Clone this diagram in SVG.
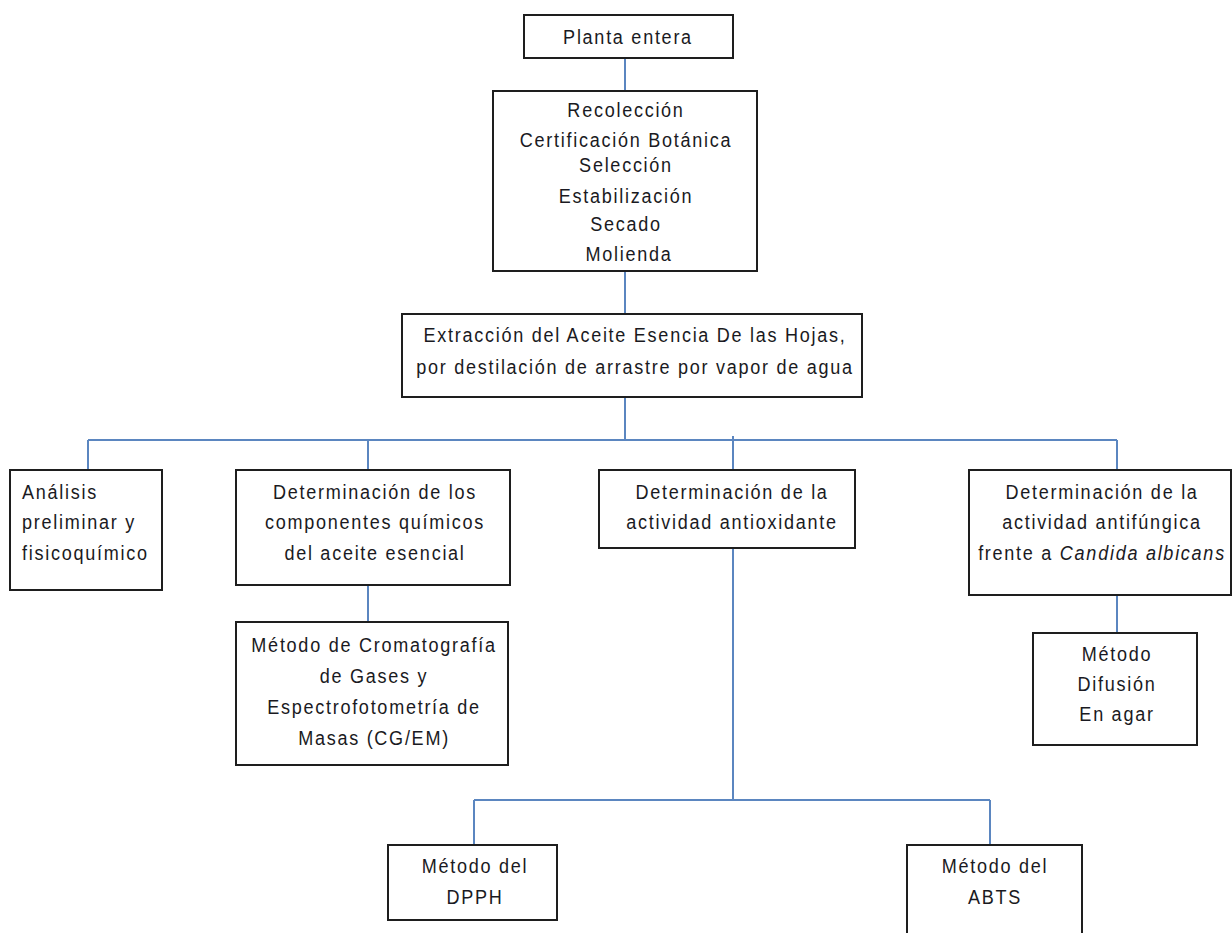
<svg xmlns="http://www.w3.org/2000/svg" width="1232" height="933" viewBox="0 0 1232 933">
<style>
.box{fill:#fff;stroke:#1e1e1e;stroke-width:2}
.t{font-family:"Liberation Sans",Arial,sans-serif;font-size:21px;fill:#1a1a22;text-anchor:middle;letter-spacing:2px}
.l{text-anchor:start}
.c{stroke:#5b86c0;stroke-width:2;fill:none}
</style>
<rect width="1232" height="933" fill="#fff"/>
<g id="connectors">
<path class="c" d="M625 58V91M625 271V314M625 397V440M88 440H1117M88 440V470M368 440V470M733 436V470M1117 440V470M368 585V622M733 548V800M474 800H990M474 800V845M990 800V845M1117 595V633"/>
</g>
<g id="n1"><rect class="box" x="524" y="15" width="209" height="43"/><text class="t" transform="translate(628,44) scale(0.86,1)">Planta entera</text></g>
<g id="n2"><rect class="box" x="493" y="91" width="264" height="180"/>
<text class="t" transform="translate(626,117) scale(0.86,1)">Recolección</text>
<text class="t" transform="translate(626,147) scale(0.86,1)">Certificación Botánica</text>
<text class="t" transform="translate(626,172) scale(0.86,1)">Selección</text>
<text class="t" transform="translate(626,203) scale(0.86,1)">Estabilización</text>
<text class="t" transform="translate(626,231) scale(0.86,1)">Secado</text>
<text class="t" transform="translate(629,261) scale(0.86,1)">Molienda</text></g>
<g id="n3"><rect class="box" x="402" y="314" width="460" height="83"/>
<text class="t" transform="translate(635,342) scale(0.86,1)">Extracción del Aceite Esencia De las Hojas,</text>
<text class="t" transform="translate(635,374) scale(0.86,1)">por destilación de arrastre por vapor de agua</text></g>
<g id="n4"><rect class="box" x="10" y="470" width="152" height="120"/>
<text class="t l" transform="translate(22,499) scale(0.86,1)">Análisis</text>
<text class="t l" transform="translate(22,529) scale(0.86,1)">preliminar y</text>
<text class="t l" transform="translate(22,560) scale(0.86,1)">fisicoquímico</text></g>
<g id="n5"><rect class="box" x="236" y="470" width="274" height="115"/>
<text class="t" transform="translate(375,499) scale(0.86,1)">Determinación de los</text>
<text class="t" transform="translate(375,529) scale(0.86,1)">componentes químicos</text>
<text class="t" transform="translate(375,560) scale(0.86,1)">del aceite esencial</text></g>
<g id="n6"><rect class="box" x="599" y="470" width="256" height="78"/>
<text class="t" transform="translate(732,499) scale(0.86,1)">Determinación de la</text>
<text class="t" transform="translate(732,529) scale(0.86,1)">actividad antioxidante</text></g>
<g id="n7"><rect class="box" x="969" y="470" width="262" height="125"/>
<text class="t" transform="translate(1102,499) scale(0.86,1)">Determinación de la</text>
<text class="t" transform="translate(1102,529) scale(0.86,1)">actividad antifúngica</text>
<text class="t" transform="translate(1102,560) scale(0.86,1)">frente a <tspan font-style="italic">Candida albicans</tspan></text></g>
<g id="n8"><rect class="box" x="236" y="622" width="272" height="143"/>
<text class="t" transform="translate(374,652) scale(0.86,1)">Método de Cromatografía</text>
<text class="t" transform="translate(374,683) scale(0.86,1)">de Gases y</text>
<text class="t" transform="translate(374,714) scale(0.86,1)">Espectrofotometría de</text>
<text class="t" transform="translate(374,745) scale(0.86,1)">Masas (CG/EM)</text></g>
<g id="n9"><rect class="box" x="1033" y="633" width="164" height="112"/>
<text class="t" transform="translate(1117,661) scale(0.86,1)">Método</text>
<text class="t" transform="translate(1117,691) scale(0.86,1)">Difusión</text>
<text class="t" transform="translate(1117,721) scale(0.86,1)">En agar</text></g>
<g id="n10"><rect class="box" x="388" y="845" width="169" height="75"/>
<text class="t" transform="translate(475,873) scale(0.86,1)">Método del</text>
<text class="t" transform="translate(475,904) scale(0.86,1)">DPPH</text></g>
<g id="n11"><rect class="box" x="907" y="845" width="175" height="100"/>
<text class="t" transform="translate(995,873) scale(0.86,1)">Método del</text>
<text class="t" transform="translate(995,904) scale(0.86,1)">ABTS</text></g>
</svg>
